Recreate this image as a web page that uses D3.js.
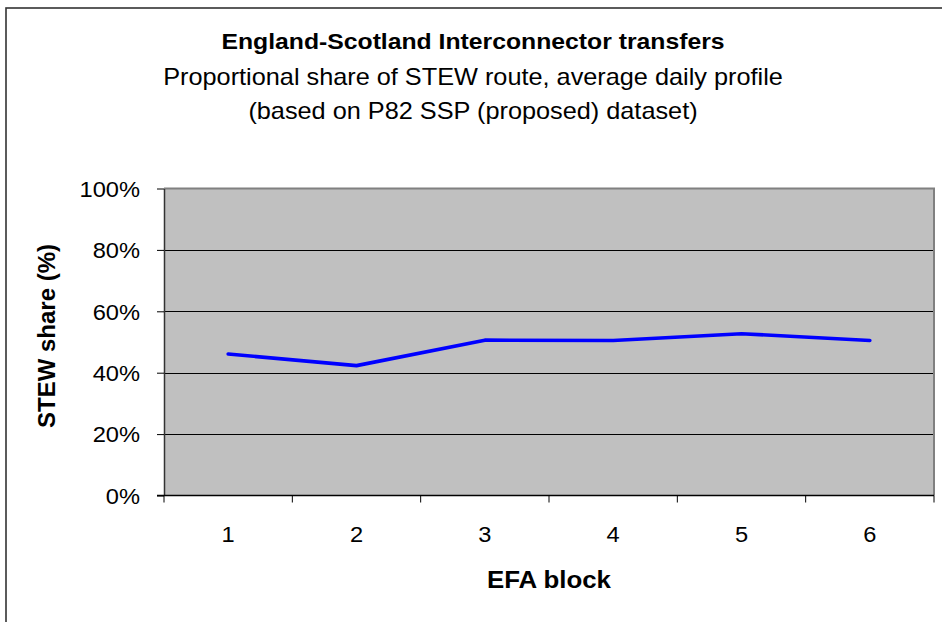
<!DOCTYPE html>
<html>
<head>
<meta charset="utf-8">
<script src="https://cdn.jsdelivr.net/npm/d3@7"></script>
<style>
  html, body { margin: 0; padding: 0; background: #fff; }
  svg { display: block; font-family: "Liberation Sans", Arial, sans-serif; }
</style>
</head>
<body>
<svg id="chart" width="942" height="622"></svg>
<script>
// ---- data ----
const categories = ["1", "2", "3", "4", "5", "6"];
const stewShare = [46.1, 42.3, 50.6, 50.5, 52.7, 50.5];
const yTicks = [0, 20, 40, 60, 80, 100];
const titleLines = [
  "England-Scotland Interconnector transfers",
  "Proportional share of STEW route, average daily profile",
  "(based on P82 SSP (proposed) dataset)"
];
const xAxisTitle = "EFA block";
const yAxisTitle = "STEW share (%)";

// ---- layout ----
const W = 942, H = 622;
const plot = { left: 164, right: 934, top: 188.5, bottom: 495.5 };
const SX = 1.1; // horizontal text stretch of the original picture

const svg = d3.select("#chart");

// outer chart border (only top and left visible)
svg.append("rect")
  .attr("x", 6).attr("y", 8)
  .attr("width", W + 20).attr("height", H + 20)
  .attr("fill", "#fff").attr("stroke", "#333").attr("stroke-width", 1.6);

const x = d3.scaleBand().domain(categories).range([plot.left, plot.right]).padding(0);
const y = d3.scaleLinear().domain([0, 100]).range([plot.bottom, plot.top]);

// plot area
svg.append("rect")
  .attr("x", plot.left).attr("y", plot.top)
  .attr("width", plot.right - plot.left).attr("height", plot.bottom - plot.top)
  .attr("fill", "#c0c0c0");

// gridlines
svg.append("g")
  .selectAll("line")
  .data(yTicks.filter(t => t > 0 && t < 100))
  .join("line")
  .attr("x1", plot.left).attr("x2", plot.right)
  .attr("y1", d => Math.round(y(d)) + 0.5).attr("y2", d => Math.round(y(d)) + 0.5)
  .attr("stroke", "#000").attr("stroke-width", 1);

// plot border top/right (grey)
svg.append("path")
  .attr("d", `M${plot.left},${plot.top}H${plot.right}V${plot.bottom}`)
  .attr("fill", "none").attr("stroke", "#808080").attr("stroke-width", 2);

// y axis
const yAxis = d3.axisLeft(y).tickValues(yTicks).tickSize(7).tickSizeOuter(0)
  .tickFormat(d => d + "%");
const gy = svg.append("g").attr("transform", `translate(${plot.left},0)`).call(yAxis);
gy.select(".domain").attr("stroke", "#333").attr("stroke-width", 1.5);
gy.selectAll(".tick line").attr("stroke", "#000");
gy.selectAll(".tick text").remove();
gy.selectAll(".tick").append("text")
  .attr("transform", `translate(-24,7.8) scale(${SX},1)`)
  .attr("text-anchor", "end")
  .attr("fill", "#000")
  .style("font-size", "21.5px")
  .text(d => d + "%");

// x axis: ticks at category boundaries, labels at centers
const gx = svg.append("g");
gx.append("line")
  .attr("x1", plot.left - 7).attr("x2", plot.right)
  .attr("y1", plot.bottom).attr("y2", plot.bottom)
  .attr("stroke", "#000").attr("stroke-width", 1.5);
const edges = categories.map(c => x(c)).concat([x(categories[categories.length - 1]) + x.bandwidth()]);
gx.selectAll("line.tk").data(edges).join("line").attr("class", "tk")
  .attr("x1", d => d).attr("x2", d => d)
  .attr("y1", plot.bottom).attr("y2", plot.bottom + 7)
  .attr("stroke", "#000").attr("stroke-width", 1);
gx.selectAll("text").data(categories).join("text")
  .attr("transform", d => `translate(${x(d) + x.bandwidth() / 2},${plot.bottom + 46.5}) scale(${SX},1)`)
  .attr("text-anchor", "middle")
  .attr("fill", "#000")
  .style("font-size", "21.5px")
  .text(d => d);

// line
const line = d3.line()
  .x((d, i) => x(categories[i]) + x.bandwidth() / 2)
  .y(d => y(d));
svg.append("path")
  .datum(stewShare)
  .attr("d", line)
  .attr("fill", "none")
  .attr("stroke", "#0000ff")
  .attr("stroke-width", 3.6)
  .attr("stroke-linejoin", "round")
  .attr("stroke-linecap", "round");

// titles
const titleSpecs = [
  { y: 49, size: 22.5, weight: "bold" },
  { y: 85, size: 23, weight: "normal" },
  { y: 119, size: 23, weight: "normal" }
];
svg.append("g").selectAll("text").data(titleLines).join("text")
  .attr("transform", (d, i) => `translate(473,${titleSpecs[i].y}) scale(${SX},1)`)
  .attr("text-anchor", "middle")
  .attr("fill", "#000")
  .style("font-size", (d, i) => titleSpecs[i].size + "px")
  .style("font-weight", (d, i) => titleSpecs[i].weight)
  .text(d => d);

// axis titles
svg.append("text")
  .attr("transform", `translate(${(plot.left + plot.right) / 2},588) scale(${SX},1)`)
  .attr("text-anchor", "middle")
  .style("font-size", "23.5px").style("font-weight", "bold")
  .text(xAxisTitle);

svg.append("text")
  .attr("transform", `translate(55,336) rotate(-90)`)
  .attr("text-anchor", "middle")
  .style("font-size", "24px").style("font-weight", "bold")
  .text(yAxisTitle);
</script>
</body>
</html>
